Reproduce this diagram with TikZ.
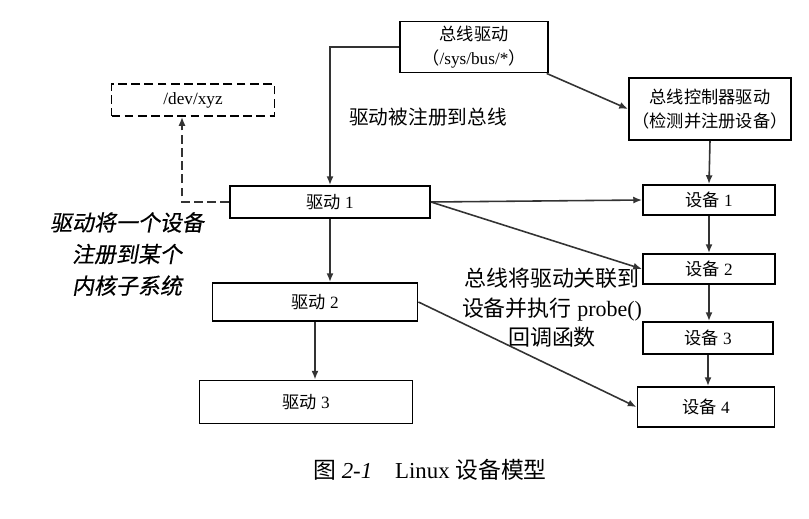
\documentclass[tikz,border=0pt]{standalone}
\usepackage{fontspec}
\setmainfont{Liberation Serif}
\newfontfamily\cjk{Noto Sans CJK SC}
\newfontfamily\cjkit[FakeSlant=0.18,FakeBold=0.5]{Noto Sans CJK SC}
\usetikzlibrary{calc}
\usetikzlibrary{positioning, arrows.meta}

\begin{document}
\begin{tikzpicture}[x=0.02cm, y=-0.02cm]
        % Define styles for shapes
        \tikzstyle{box} = [draw, line width=1.1pt, fill=white, inner sep=2pt, align=center, font=\fontsize{9.8}{14}\selectfont]
        \tikzstyle{arr} = [draw=black!80, line width=0.9pt, -{Latex[length=5pt, width=4pt]}]
        \tikzstyle{lbl} = [align=center, inner sep=0pt]
        \useasboundingbox (0,0) rectangle (809,518);
        % Draw shapes
        \node[box, minimum width=2.96cm, minimum height=1.02cm] (bus) at (474, 47) {{\cjk 总线驱动}\\{\cjk （}/sys/bus/*{\cjk ）}};
        \node[box, minimum width=3.0cm, minimum height=1.24cm] (ctrl) at (710, 109) {{\cjk 总线控制器驱动}\\{\cjk （检测并注册设备）}};
        \node[box, dash pattern=on 5pt off 2.5pt, minimum width=3.26cm, minimum height=0.64cm] (xyz) at (193, 100) {/dev/xyz};
        \node[box, minimum width=4.0cm, minimum height=0.64cm] (drv1) at (330, 202) {{\cjk 驱动} 1};
        \node[box, minimum width=4.1cm, minimum height=0.76cm] (drv2) at (315, 302) {{\cjk 驱动} 2};
        \node[box, minimum width=4.26cm, minimum height=0.86cm] (drv3) at (306, 402) {{\cjk 驱动} 3};
        \node[box, minimum width=2.64cm, minimum height=0.6cm] (dev1) at (709, 200) {{\cjk 设备} 1};
        \node[box, minimum width=2.64cm, minimum height=0.6cm] (dev2) at (709, 269) {{\cjk 设备} 2};
        \node[box, minimum width=2.6cm, minimum height=0.64cm] (dev3) at (708, 338) {{\cjk 设备} 3};
        \node[box, minimum width=2.74cm, minimum height=0.8cm] (dev4) at (706, 407) {{\cjk 设备} 4};

        % Labels
        \node[lbl, font=\cjk\fontsize{11.2}{14}\selectfont] (regbus) at (428, 117) {驱动被注册到总线};
        \node[lbl, font=\cjkit\fontsize{12.5}{18}\selectfont] (regsub) at (127, 254) {驱动将一个设备\\注册到某个\\内核子系统};
        \node[lbl, font=\fontsize{12.5}{16.8}\selectfont] (probe) at (552, 308) {{\cjk 总线将驱动关联到}\\{\cjk 设备并执行} probe()\\{\cjk 回调函数}};
        \node[lbl, font=\fontsize{13}{16}\selectfont] (caption) at (430, 470) {{\cjk 图} \textit{2-1}\quad Linux {\cjk 设备模型}};

        % Draw arrows
        \draw[arr] (bus.west) -| (drv1.north);
        \draw[arr] (bus.-20) -- (ctrl.west);
        \draw[arr] (ctrl.south) -- (dev1.north);
        \foreach \a/\b in {dev1/dev2, dev2/dev3, dev3/dev4, drv1/drv2, drv2/drv3}
            \draw[arr] (\a.south) -- (\a.south |- \b.north);
        \draw[arr] (drv1.east) -- (dev1.west);
        \draw[arr] (drv1.east) -- (dev2.west);
        \draw[arr] (drv2.east) -- (dev4.west);
        \draw[arr, dash pattern=on 5pt off 2.5pt] (drv1.west) -| ($(xyz.south)+(-11,0)$);
\end{tikzpicture}
\end{document}
